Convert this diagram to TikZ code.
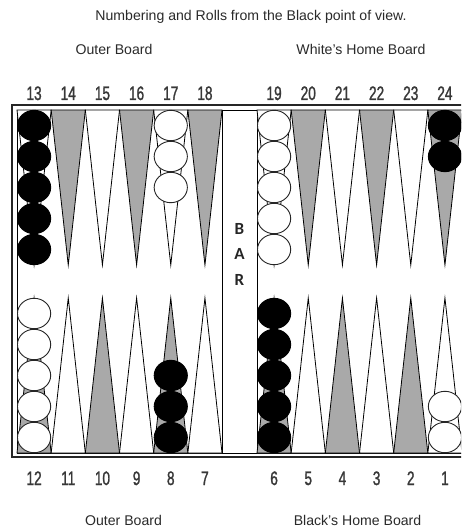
\documentclass[tikz,border=0pt]{standalone}
\usepackage{fontspec}
\setmainfont{Liberation Sans}
\newfontfamily\numfont[FakeStretch=0.7,FakeBold=1.2]{Liberation Sans}
\newfontfamily\barfont{Carlito}
\definecolor{ptgray}{HTML}{A9A9A9}
\definecolor{txtc}{HTML}{2A2A2A}
\begin{document}
\begin{tikzpicture}[x=1pt,y=-1pt,
  pointline/.style={draw=black,line width=0.8pt,line join=miter},
  lbl/.style={anchor=base,inner sep=0pt,text=txtc,font=\fontsize{14.1}{16}\selectfont},
  num/.style={anchor=base,inner sep=0pt,text=black!78,font=\numfont\fontsize{19.5}{21}\selectfont},
  barl/.style={anchor=base,inner sep=0pt,text=black!85,font=\barfont\bfseries\fontsize{17}{19}\selectfont},
  blackck/.style={fill=black,draw=black,line width=0.9pt},
  whiteck/.style={fill=white,draw=black!85,line width=0.9pt}]
\useasboundingbox (0,0) rectangle (461,529);
\clip (0,0) rectangle (461,529);
\fill[white] (0,0) rectangle (461,529);
% frame
\draw[line width=1.6pt,draw=black!85] (12,105) rectangle (475,457);
\draw[line width=0.9pt] (17,110) rectangle (470,453);
% bar
\draw[line width=0.9pt] (222,110) -- (222,453);
\draw[line width=0.9pt] (257,110) -- (257,453);
% points and numbers
\foreach \i in {0,...,11}{
  \pgfmathsetmacro\xa{\i<6 ? 17+34.17*\i : 257+34.17*(\i-6)}
  \pgfmathsetmacro\xb{\xa+34.17}
  \pgfmathsetmacro\xm{\xa+17.085}
  \pgfmathtruncatemacro\tn{13+\i}
  \pgfmathtruncatemacro\bn{12-\i}
  \ifodd\i \def\tfc{ptgray}\def\bfc{white}\else\def\tfc{white}\def\bfc{ptgray}\fi
  \filldraw[fill=\tfc,pointline] (\xa,110) -- (\xm,265) -- (\xb,110) -- cycle;
  \filldraw[fill=\bfc,pointline] (\xa,453) -- (\xm,298) -- (\xb,453) -- cycle;
  \node[num] (top\i) at (\xm,100) {\tn};
  \node[num] (bot\i) at (\xm,485) {\bn};
}
% top checkers
\foreach \c/\n/\s in {0/5/blackck,4/3/whiteck,6/5/whiteck,11/2/blackck}{
  \pgfmathsetmacro\cx{\c<6 ? 17+34.17*\c+17.085 : 257+34.17*(\c-6)+17.085}
  \foreach \k in {1,...,\n}{
    \path[\s] (\cx,{110+15.5+31*(\k-1)}) ellipse [x radius=16.6, y radius=15.2];
  }
}
% bottom checkers
\foreach \c/\n/\s in {0/5/whiteck,4/3/blackck,6/5/blackck,11/2/whiteck}{
  \pgfmathsetmacro\cx{\c<6 ? 17+34.17*\c+17.085 : 257+34.17*(\c-6)+17.085}
  \foreach \k in {1,...,\n}{
    \path[\s] (\cx,{453-15.5-31*(\k-1)}) ellipse [x radius=16.6, y radius=15.2];
  }
}
% BAR
\node[barl] (barB) at (239.5,234) {B};
\node[barl] (barA) at (239.5,259) {A};
\node[barl] (barR) at (239.5,285) {R};
% labels
\node[lbl] (title) at (251,20.5) {Numbering and Rolls from the Black point of view.};
\node[lbl] (outertop) at (114,55) {Outer Board};
\node[lbl] (whitehome) at (361,55) {White\symbol{39}s Home Board};
\node[lbl] (outerbot) at (123.5,525) {Outer Board};
\node[lbl] (blackhome) at (357.5,525) {Black\symbol{39}s Home Board};
\end{tikzpicture}
\end{document}
